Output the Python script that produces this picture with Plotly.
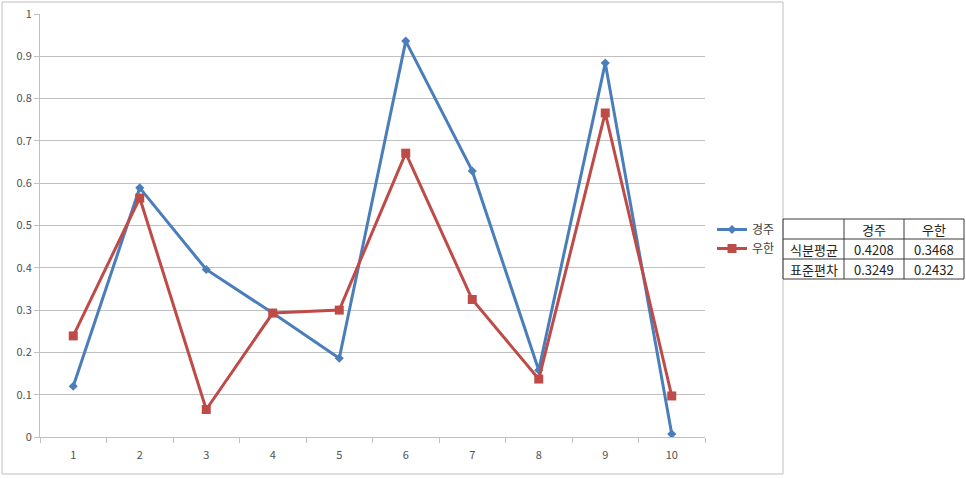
import plotly.graph_objects as go

W, H = 966, 478

categories = [1, 2, 3, 4, 5, 6, 7, 8, 9, 10]
gyeongju = [0.120, 0.589, 0.396, 0.293, 0.186, 0.936, 0.629, 0.158, 0.884, 0.007]
wuhan = [0.239, 0.565, 0.065, 0.293, 0.300, 0.671, 0.325, 0.137, 0.766, 0.097]
series_names = ["경주", "우한"]

table_header = ["", "경주", "우한"]
table_rows = ["식분평균", "표준편차"]
table_values = [["0.4208", "0.3468"], ["0.3249", "0.2432"]]

FONT = "Noto Sans CJK KR"

def px(x):
    return x / W

def py(y):
    return 1 - y / H

fig = go.Figure()
fig.add_trace(go.Scatter(
    x=categories, y=gyeongju, name=series_names[0], mode="lines+markers",
    line=dict(color="#4a7ebb", width=3),
    marker=dict(symbol="diamond", size=7, color="#4a7ebb"),
))
fig.add_trace(go.Scatter(
    x=categories, y=wuhan, name=series_names[1], mode="lines+markers",
    line=dict(color="#be4b48", width=3),
    marker=dict(symbol="square", size=9, color="#be4b48"),
))

grid = "#c0c0c0"
fig.update_layout(
    template="none",
    width=W, height=H, autosize=False,
    margin=dict(l=0, r=0, t=0, b=0, pad=0, autoexpand=False),
    paper_bgcolor="white", plot_bgcolor="white",
    font=dict(family=FONT, size=11, color="#595959"),
    showlegend=True,
    legend=dict(x=px(712), y=py(215), xanchor="left", yanchor="top",
                font=dict(family=FONT, size=12, color="#404040"),
                itemwidth=30, tracegroupgap=2, bgcolor="rgba(0,0,0,0)"),
    xaxis=dict(
        domain=[px(40), px(705)], range=[0.5, 10.5], automargin=False,
        tickvals=categories, ticktext=[str(c) for c in categories],
        ticks="", showgrid=False, zeroline=False,
        showline=True, linecolor=grid, linewidth=1,
        ticklabelstandoff=8,
        tickfont=dict(family=FONT, size=11, color="#505050"),
        minor=dict(tickvals=[i + 0.5 for i in range(0, 11)], ticks="outside",
                   ticklen=5, tickcolor=grid, showgrid=False),
        fixedrange=True,
    ),
    yaxis=dict(
        domain=[py(437), py(14)], range=[0, 1], automargin=False,
        tickvals=[i / 10 for i in range(11)],
        ticktext=["0", "0.1", "0.2", "0.3", "0.4", "0.5", "0.6", "0.7", "0.8", "0.9", "1"],
        ticks="outside", ticklen=5, tickcolor=grid,
        showgrid=True, gridcolor=grid, gridwidth=1,
        zeroline=False, showline=True, linecolor=grid, linewidth=1,
        tickfont=dict(family=FONT, size=11, color="#505050"),
        fixedrange=True,
    ),
)

shapes = []
# chart area border
shapes.append(dict(type="rect", xref="paper", yref="paper",
                   x0=px(2), x1=px(783), y0=py(474), y1=py(2),
                   line=dict(color="#bfbfbf", width=1), layer="below"))

# table
col_x = [783, 844, 904, 964]
row_y = [219, 239, 259, 279]
tcol = "#3a3a3a"
for x in col_x:
    shapes.append(dict(type="line", xref="paper", yref="paper",
                       x0=px(x), x1=px(x), y0=py(row_y[0]), y1=py(row_y[-1]),
                       line=dict(color=tcol, width=1)))
for y in row_y:
    shapes.append(dict(type="line", xref="paper", yref="paper",
                       x0=px(col_x[0]), x1=px(col_x[-1]), y0=py(y), y1=py(y),
                       line=dict(color=tcol, width=1)))
fig.update_layout(shapes=shapes)

anns = []
def cell(text, ci, ri):
    cx = (col_x[ci] + col_x[ci + 1]) / 2
    cy = (row_y[ri] + row_y[ri + 1]) / 2
    anns.append(dict(text=text, xref="paper", yref="paper",
                     x=px(cx), y=py(cy), xanchor="center", yanchor="middle",
                     showarrow=False,
                     font=dict(family=FONT, size=13, color="#222222")))

for ci, h in enumerate(table_header):
    if h:
        cell(h, ci, 0)
for ri, label in enumerate(table_rows):
    cell(label, 0, ri + 1)
    for ci, v in enumerate(table_values[ri]):
        cell(v, ci + 1, ri + 1)
fig.update_layout(annotations=anns)

fig.write_html(
    "out.html",
    config={"displayModeBar": False, "staticPlot": True},
    post_script=(
        "document.documentElement.style.margin='0';"
        "document.documentElement.style.overflow='hidden';"
        "document.body.style.margin='0';"
        "document.body.style.padding='0';"
        "document.body.style.overflow='hidden';"
    ),
)
